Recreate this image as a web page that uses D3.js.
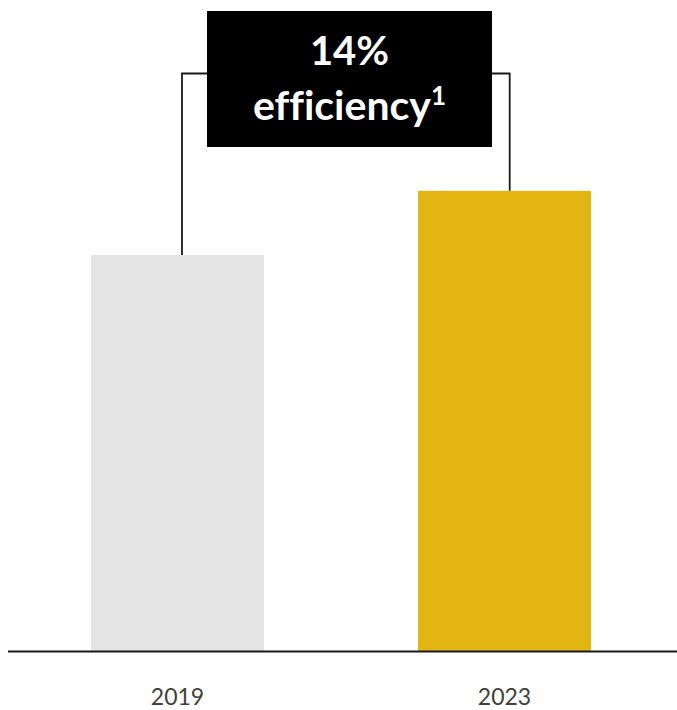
<!DOCTYPE html>
<html>
<head>
<meta charset="utf-8">
<script src="https://cdn.jsdelivr.net/npm/d3@7"></script>
<style>
  html, body { margin: 0; padding: 0; background: #fff; }
  svg { display: block; }
  text { font-variant-ligatures: none; font-feature-settings: "liga" 0; }
</style>
</head>
<body>
<div id="chart"></div>
<script>
// Chart data
const years = ["2019", "2023"];
const values = [100, 116.2];
const barColors = ["#e5e5e5", "#e3b512"];
const calloutLines = ["14%", "efficiency"];
const calloutNote = "1";

const width = 677, height = 710;
const baseline = 651;

const svg = d3.select("#chart").append("svg")
  .attr("width", width)
  .attr("height", height);

const x = d3.scaleBand()
  .domain(years)
  .range([10, 672])
  .paddingInner(0.471)
  .paddingOuter(0.2477);

const y = d3.scaleLinear()
  .domain([0, 100])
  .range([baseline, 255]);

// Bars
svg.selectAll("rect.bar")
  .data(years)
  .join("rect")
  .attr("class", "bar")
  .attr("x", d => x(d))
  .attr("width", x.bandwidth())
  .attr("y", (d, i) => y(values[i]))
  .attr("height", (d, i) => baseline - y(values[i]))
  .attr("fill", (d, i) => barColors[i]);

// Baseline
svg.append("line")
  .attr("x1", 8).attr("x2", width)
  .attr("y1", baseline + 0.5).attr("y2", baseline + 0.5)
  .attr("stroke", "#1a1a1a")
  .attr("stroke-width", 1.8);

// Year labels
svg.selectAll("text.year")
  .data(years)
  .join("text")
  .attr("class", "year")
  .attr("x", d => x(d) + x.bandwidth() / 2)
  .attr("y", 705)
  .attr("text-anchor", "middle")
  .attr("font-family", "Lato, 'Open Sans', sans-serif")
  .attr("font-size", 23)
  .attr("fill", "#404040")
  .text(d => d);

// Bracket connecting the two bars
const bracketY = 73.5;
const xl = x(years[0]) + x.bandwidth() * 0.526;
const xr = x(years[1]) + x.bandwidth() * 0.53;
svg.append("path")
  .attr("d", `M${xl},${y(values[0])} V${bracketY} H${xr} V${y(values[1])}`)
  .attr("fill", "none")
  .attr("stroke", "#1a1a1a")
  .attr("stroke-width", 1.8);

// Callout box
const boxX = 207, boxW = 285, boxY = 11, boxH = 136;
svg.append("rect")
  .attr("x", boxX).attr("y", boxY)
  .attr("width", boxW).attr("height", boxH)
  .attr("fill", "#000");

const cx = boxX + boxW / 2;
svg.append("text")
  .attr("x", cx).attr("y", 65)
  .attr("text-anchor", "middle")
  .attr("font-family", "Lato, 'Open Sans', sans-serif")
  .attr("font-weight", "bold")
  .attr("font-size", 40)
  .attr("fill", "#fff")
  .text(calloutLines[0]);

const t2 = svg.append("text")
  .attr("x", cx).attr("y", 120)
  .attr("text-anchor", "middle")
  .attr("font-family", "Lato, 'Open Sans', sans-serif")
  .attr("font-weight", "bold")
  .attr("font-size", 41)
  .attr("fill", "#fff");
t2.append("tspan").text(calloutLines[1]);
t2.append("tspan")
  .attr("font-size", 26)
  .attr("dy", -15)
  .text(calloutNote);
</script>
</body>
</html>
